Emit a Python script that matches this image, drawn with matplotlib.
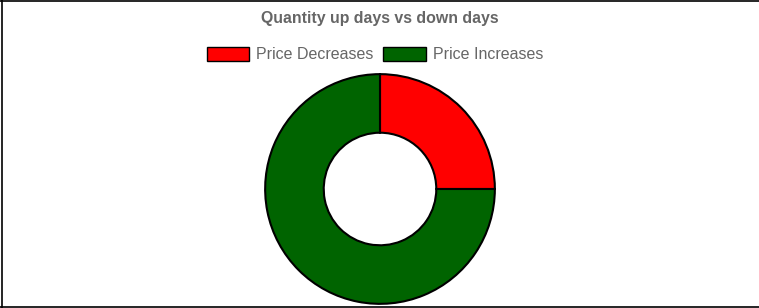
import matplotlib.pyplot as plt
from matplotlib.patches import Patch
from matplotlib.lines import Line2D

# données
labels = ['Price Decreases', 'Price Increases']
counts = [25, 75]
colors = ['#ff0000', '#006400']
title = 'Quantity up days vs down days'

W, H = 759, 308
fig = plt.figure(figsize=(W / 100, H / 100), dpi=100)

# cadre (haut, gauche, bas)
for xs, ys in [([0, 1], [1 - 0.5 / H, 1 - 0.5 / H]),
               ([1.5 / W, 1.5 / W], [0, 1]),
               ([0, 1], [1.5 / H, 1.5 / H])]:
    fig.add_artist(Line2D(xs, ys, color='black', lw=1.2, transform=fig.transFigure))

# donut
cx, cy, r = 380, 119, 116
ax = fig.add_axes([(cx - r) / W, (cy - r) / H, 2 * r / W, 2 * r / H])
ax.pie(counts, colors=colors, startangle=90, counterclock=False, radius=1,
       wedgeprops=dict(width=0.51, edgecolor='black', linewidth=1.5))
ax.set_xlim(-1.01, 1.01)
ax.set_ylim(-1.01, 1.01)
ax.set_aspect('equal')

fig.text(cx / W, 1 - 18.5 / H, title, ha='center', va='center', fontsize=11.4,
         fontweight='bold', color='#666666', family='Liberation Sans')

handles = [Patch(facecolor=c, edgecolor='black', linewidth=1) for c in colors]
leg = fig.legend(handles, labels, loc='center', bbox_to_anchor=(375 / W, 1 - 54.5 / H),
                 ncol=2, frameon=False, handlelength=2.65, handleheight=1.0,
                 handletextpad=0.44, columnspacing=0.6,
                 prop={'family': 'Liberation Sans', 'size': 11.5})
for t in leg.get_texts():
    t.set_color('#666666')

plt.savefig('out.png', dpi=100)
